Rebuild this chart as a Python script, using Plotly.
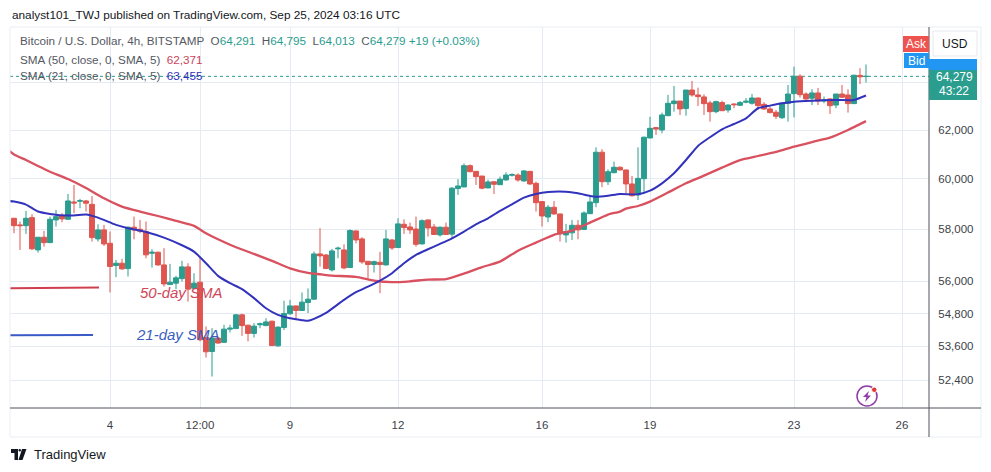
import pandas as pd
import plotly.graph_objects as go

W, H = 991, 472
L, R, T, B = 10, 929, 27, 408

dates = pd.date_range("2024-09-01 08:00", periods=143, freq="4h")
sma_dates = pd.date_range("2024-09-01 04:00", periods=144, freq="4h")

opens = [58425,58165,58135,58450,57195,57685,57475,58360,58530,58385,59070,59100,59110,58975,57620,57970,57450,56595,56685,56480,
58075,57995,57905,57065,57105,56620,55875,55930,56100,56545,55740,55965,53920,53415,53900,53745,54225,54245,54750,54370,
54070,54385,54355,54515,53620,54285,54790,55080,54910,55205,55330,57040,57000,56430,57235,57195,56520,57930,57620,56760,
56635,56720,56620,57580,57285,58190,58085,58005,57425,58360,58085,57775,58075,57805,59605,59670,60530,60300,60110,59630,
59880,59760,59950,60140,60150,59910,60300,59815,59085,58475,58860,58595,57775,57855,58150,57990,58605,59040,61080,59880,
60245,60465,60355,59790,59350,60000,61670,62100,62000,62600,63110,63220,62900,63690,63480,63395,63140,62770,63155,62840,
63095,63040,63170,63125,63350,63080,62885,62745,62515,63125,63535,64285,63520,63340,63565,63220,63310,63050,63520,63480,
63110,64320,64270]
highs = [58440,58295,58715,58585,57685,57930,58490,58754,58625,59390,59750,59190,59150,59310,58190,58165,57905,56810,56850,58100,
58490,58360,58295,57220,57130,57260,56660,56205,56775,56685,56305,56915,54320,54260,53955,54385,54385,54775,54790,54385,
54445,54465,54625,54540,54320,55270,55305,55080,55580,55730,57130,58035,57040,57235,57320,57410,57990,57945,57685,56760,
56785,57120,57970,57605,58425,58385,58255,58490,58385,58370,58205,58100,58255,59660,59980,60620,60580,60300,60110,59965,
59880,60085,60260,60220,60220,60355,60310,59880,59085,58950,59110,58600,58205,58360,58360,58700,59320,61280,61200,60380,
60695,60500,60370,60110,61280,61725,62555,62115,62730,63480,63865,63220,63690,64080,63790,63505,63235,63235,63235,63080,
63125,63220,63350,63520,63365,63170,62985,62840,63155,63905,64700,64370,63590,63725,63780,63410,63340,63520,63905,63725,
64330,64630,64795]
lows = [57840,57195,57815,57195,57090,57320,57475,58100,58270,58360,58625,58820,58690,57515,57515,57350,55580,56155,56430,56180,
57605,57840,56875,56520,56585,55800,55865,55705,55990,55240,55705,53780,53200,52525,53695,53745,54105,54235,53980,53780,
53920,54260,54335,53620,53585,54190,54750,54555,54900,54815,55305,56555,56470,56370,56875,56455,56520,57450,56660,56115,
56330,55555,56595,57195,57270,57815,57815,57320,57410,57710,57775,57710,57775,57620,59350,59660,60260,59750,59575,59620,
59390,59750,59935,60085,59880,59880,59750,58690,58100,58270,58570,57515,57475,57580,57605,57970,58595,58860,59660,59750,
60220,60340,59415,59280,59150,59415,61655,61795,61860,62585,62770,62630,62600,63410,63010,62630,62350,62700,62800,62730,
62915,63010,63125,63065,62840,62840,62700,62460,62460,62350,62530,63365,63265,63050,63050,63125,62675,62915,63365,62730,
63095,63950,64013]
closes = [58135,58135,58425,57235,57685,57475,58385,58490,58400,59110,59030,59120,59020,57670,57970,57425,56560,56685,56470,58075,
57970,57920,57005,57105,56620,55900,55965,56130,56545,55705,55930,53840,53405,53900,53720,54225,54260,54750,54355,54070,
54335,54420,54490,53630,54300,54800,55080,54910,55220,55330,57040,56965,56480,57155,57260,56505,57945,57580,56735,56635,
56745,56635,57620,57270,58205,58060,57970,57410,58330,58045,57790,58075,57790,59620,59710,60530,60285,60085,59620,59870,
59775,59980,60150,60165,59950,60315,59790,59040,58515,58860,58595,57815,57905,58150,57970,58635,59070,61080,59880,60285,
60465,60355,59790,59320,60015,61700,62070,62040,62630,63125,63220,62885,63690,63480,63410,63110,62770,63195,62810,63050,
63065,63155,63210,63350,63025,62885,62730,62575,63125,63520,64285,63490,63310,63565,63220,63265,63025,63520,63380,63110,
64330,64260,64279]

sma21_bars = [0,1,3,5,7,10,13,15,18,20,23,26,29,31,33,35,37,39,41,43,45,47,49,50,51,53,56,58,60,62,64,66,68,70,72,74,76,78,80,82,84,86,88,90,
93,95,97,98,100,102,105,107,109,111,113,115,117,119,121,123,125,127,129,131,134,138,141,143]
sma21_vals = [59110,59085,58965,58690,58595,58530,58570,58450,58165,58035,57890,57670,57375,57130,56685,56205,55930,55705,55370,54995,54750,54625,54555,54530,54600,54820,55305,55590,55800,56025,56305,56685,57005,57220,57425,57640,57905,58190,58425,58715,58975,59240,59390,59470,
59480,59415,59310,59280,59320,59390,59375,59520,59815,60220,60760,61340,61700,62030,62250,62490,62915,63025,63125,63195,63235,63265,63265,63455]

sma50_bars = [0,1,3,5,7,10,13,16,19,22,25,28,31,33,35,38,41,44,47,50,52,54,58,61,64,67,70,73,76,79,82,85,88,91,94,97,100,102,103,105,107,110,113,116,119,122,125,128,131,134,137,140,143]
sma50_vals = [61172,60990,60760,60515,60285,59990,59630,59215,58885,58690,58515,58320,58125,57840,57605,57295,57040,56775,56490,56315,56265,56215,56165,56025,55965,56000,56065,56080,56290,56535,56745,57165,57475,57775,57945,58255,58570,58690,58805,58910,59085,59445,59815,60125,60450,60760,60925,61090,61310,61500,61680,62000,62371]

key50_x = ["2024-09-01 05:20", "2024-09-03 16:40"]
key50_y = [55740, 55770]
key21_x = ["2024-09-01 05:20", "2024-09-03 12:40"]
key21_y = [54000, 54010]

label_texts = ["50-day SMA", "21-day SMA"]
label_x = ["2024-09-04 20:00", "2024-09-04 18:00"]
label_y = [55520, 53980]

last_price = 64279
x_tickvals = ["2024-09-04","2024-09-06 12:00","2024-09-09","2024-09-12","2024-09-16","2024-09-19","2024-09-23","2024-09-26"]
x_ticktext = ["4","12:00","9","12","16","19","23","26"]
y_tickvals = [52400,53600,54800,56000,58000,60000,62000,64000]
y_ticktext = ["52,400","53,600","54,800","56,000","58,000","60,000","62,000",""]

UP, DOWN = "#2a9d8f", "#e0554f"
FONT = "Liberation Sans"
TXT = "#3c3f48"

def px(x): return (x - L) / (R - L)
def py(y): return (B - y) / (B - T)

def rect(x0, y0, x1, y1, fill, line=None, lw=1, layer="above"):
    return dict(type="rect", xref="paper", yref="paper", x0=px(x0), x1=px(x1), y0=py(y0), y1=py(y1),
                fillcolor=fill, line=dict(color=line or fill, width=lw if line else 0), layer=layer)

def seg(x0, y0, x1, y1, color, lw=1, layer="above"):
    return dict(type="line", xref="paper", yref="paper", x0=px(x0), x1=px(x1), y0=py(y0), y1=py(y1),
                line=dict(color=color, width=lw), layer=layer)

def path(points, fill, line="rgba(0,0,0,0)", lw=0):
    d = "M" + " L".join(f"{px(a):.5f},{py(b):.5f}" for a, b in points) + " Z"
    return dict(type="path", xref="paper", yref="paper", path=d, fillcolor=fill, line=dict(color=line, width=lw), layer="above")

def text(x, y, s, size=12, color=TXT, anchor="left", fam=FONT, **kw):
    return dict(xref="paper", yref="paper", x=px(x), y=py(y), text=s, showarrow=False, xanchor=anchor, yanchor="middle",
                font=dict(family=fam, size=size, color=color), align=anchor, **kw)

fig = go.Figure()
fig.add_trace(go.Candlestick(x=dates, open=opens, high=highs, low=lows, close=closes,
    increasing=dict(line=dict(color=UP, width=1), fillcolor=UP),
    decreasing=dict(line=dict(color=DOWN, width=1), fillcolor=DOWN),
    whiskerwidth=0, hoverinfo="skip", showlegend=False))
fig.add_trace(go.Scatter(x=[sma_dates[i] for i in sma50_bars], y=sma50_vals, mode="lines",
    line=dict(color="#d9505f", width=2.3, shape="spline", smoothing=0.5), hoverinfo="skip", showlegend=False))
fig.add_trace(go.Scatter(x=[sma_dates[i] for i in sma21_bars], y=sma21_vals, mode="lines",
    line=dict(color="#3232bc", width=2, shape="spline", smoothing=0.5), hoverinfo="skip", showlegend=False))
fig.add_trace(go.Scatter(x=key50_x, y=key50_y, mode="lines", line=dict(color="#d13f4f", width=2), hoverinfo="skip", showlegend=False))
fig.add_trace(go.Scatter(x=key21_x, y=key21_y, mode="lines", line=dict(color="#3a5bc7", width=2), hoverinfo="skip", showlegend=False))
fig.add_trace(go.Scatter(x=label_x, y=label_y, mode="text", text=label_texts,
    textposition="middle right", hoverinfo="skip", showlegend=False,
    textfont=dict(family=FONT, size=15, color=["#d0475a", "#3a5fc0"], style="italic")))

shapes = [
    dict(type="line", xref="paper", yref="y", x0=0, x1=1, y0=last_price, y1=last_price,
         line=dict(color=UP, width=1, dash="dot"), layer="below"),
    seg(10, 27, 981, 27, "#e9edf3"), seg(10, 27, 10, 437, "#e9edf3"),
    seg(981, 27, 981, 437, "#e9edf3"), seg(10, 437, 981, 437, "#e9edf3"),
    seg(10, 408, 981, 408, "#50535e"), seg(929, 27, 929, 437, "#50535e"),
    rect(903, 36, 929, 52, "#ef5350"), rect(904, 53, 929, 68, "#2196f3"),
    rect(929, 59, 977, 70, "#2196f3"), rect(929, 70, 977, 100, UP),
    rect(933, 31, 977, 56, "#ffffff", "#e6e9ef"),
    # alert icon
    dict(type="circle", xref="paper", yref="paper", x0=px(857), x1=px(877), y0=py(386), y1=py(406),
         line=dict(color="#8e3aa8", width=1.5), fillcolor="rgba(0,0,0,0)", layer="above"),
    path([(869, 391), (863, 397), (866.5, 397), (865, 402), (871, 395.5), (867.5, 395.5)], "#8e3aa8"),
    dict(type="circle", xref="paper", yref="paper", x0=px(871.5), x1=px(877), y0=py(387), y1=py(392.5),
         line=dict(color="#ffffff", width=1), fillcolor="#e53935", layer="above"),
    # logo
    path([(11, 449), (18, 449), (18, 460), (14.5, 460), (14.5, 453), (11, 453)], "#131722"),
    dict(type="circle", xref="paper", yref="paper", x0=px(18.5), x1=px(21), y0=py(449), y1=py(451.5),
         line=dict(color="#131722", width=0), fillcolor="#131722", layer="above"),
    path([(22, 449), (26.5, 449), (22.5, 460), (18.5, 460)], "#131722"),
]

annots = [
    text(10, 15, "analyst101_TWJ published on TradingView.com, Sep 25, 2024 03:16 UTC", size=11.8, color="#131722"),
    text(18, 41, f'Bitcoin / U.S. Dollar, 4h, BITSTAMP  O<span style="color:{UP}">64,291</span>  H<span style="color:{UP}">64,795</span>  L<span style="color:{UP}">64,013</span>  C<span style="color:{UP}">64,279</span> <span style="color:{UP}">+19 (+0.03%)</span>', size=11.7, color="#555862"),
    text(18, 59, 'SMA (50, close, 0, SMA, 5)  <span style="color:#c8435a">62,371</span>', size=11.7, color="#555862"),
    text(18, 76, 'SMA (21, close, 0, SMA, 5)  <span style="color:#2f2fb8">63,455</span>', size=11.7, color="#555862"),
    text(916, 44, "Ask", size=12, color="#ffffff", anchor="center"),
    text(916.5, 61, "Bid", size=12, color="#ffffff", anchor="center"),
    text(955, 44, "USD", size=12, color="#131722", anchor="center"),
    text(954, 77, "64,279", size=12, color="#ffffff", anchor="center"),
    text(954, 91, "43:22", size=12, color="#ffffff", anchor="center"),
    text(32, 454, "TradingView", size=13, color="#131722"),
]

fig.update_layout(
    width=W, height=H, margin=dict(l=L, r=W - R, t=T, b=H - B),
    paper_bgcolor="#ffffff", plot_bgcolor="#ffffff", showlegend=False, boxgap=0.1, boxgroupgap=0.1,
    font=dict(family=FONT, size=11, color=TXT), shapes=shapes, annotations=annots, hovermode=False,
    xaxis=dict(type="date", range=["2024-09-01 05:20", "2024-09-26 18:00"], rangeslider=dict(visible=False),
               tickmode="array", tickvals=x_tickvals, ticktext=x_ticktext, showgrid=True, gridcolor="#e4ebf2", gridwidth=1,
               zeroline=False, showline=False, ticks="outside", ticklen=6, tickcolor="rgba(0,0,0,0)", tickfont=dict(size=11.5, color=TXT), tickangle=0),
    yaxis=dict(type="log", side="right", range=[4.71116, 4.82249], tickmode="array", tickvals=y_tickvals, ticktext=y_ticktext,
               showgrid=True, gridcolor="#e4ebf2", gridwidth=1, zeroline=False, showline=False, ticks="outside", ticklen=6, tickcolor="rgba(0,0,0,0)",
               tickfont=dict(size=11.5, color=TXT)),
)

fig.write_html("out.html", config=dict(displayModeBar=False),
               post_script="document.body.style.margin='0';document.body.style.overflow='hidden';")
